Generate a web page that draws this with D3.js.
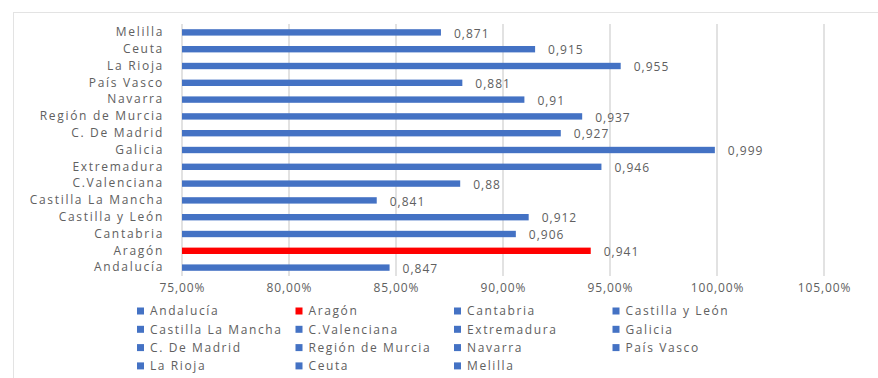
<!DOCTYPE html>
<html>
<head>
<meta charset="utf-8">
<script src="https://cdn.jsdelivr.net/npm/d3@7"></script>
<style>
  body { margin: 0; background: #fff; }
  svg text { font-family: "Open Sans", sans-serif; fill: #606060; }
</style>
</head>
<body>
<svg id="chart" width="878" height="378"></svg>
<script>
// Data (bottom to top in the chart; also legend order)
const categories = ["Andalucía", "Aragón", "Cantabria", "Castilla y León", "Castilla La Mancha",
  "C.Valenciana", "Extremadura", "Galicia", "C. De Madrid", "Región de Murcia", "Navarra",
  "País Vasco", "La Rioja", "Ceuta", "Melilla"];
const values = [0.847, 0.941, 0.906, 0.912, 0.841, 0.88, 0.946, 0.999, 0.927, 0.937, 0.91,
  0.881, 0.955, 0.915, 0.871];
const highlight = "Aragón";
const xTicks = [0.75, 0.80, 0.85, 0.90, 0.95, 1.00, 1.05];

const svg = d3.select("#chart");
const blue = "#4472C4", red = "#FF0000";
const txtColor = "#606060";

// chart frame
svg.append("line").attr("x1", 13).attr("x2", 878).attr("y1", 12.5).attr("y2", 12.5)
  .attr("stroke", "#e3e3e3");
svg.append("line").attr("x1", 13.5).attr("x2", 13.5).attr("y1", 12).attr("y2", 378)
  .attr("stroke", "#e3e3e3");

const x = d3.scaleLinear().domain([0.75, 1.05]).range([182, 824]);
const y = d3.scaleBand().domain(categories.slice().reverse()).range([24, 276]).paddingInner(0.62).paddingOuter(0.31);

// gridlines
svg.append("g").selectAll("line").data(xTicks).join("line")
  .attr("x1", d => x(d)).attr("x2", d => x(d))
  .attr("y1", 24).attr("y2", 276)
  .attr("stroke", "#d9d9d9").attr("stroke-width", 1.5);

// x axis labels
const fmt = d => d3.format(".2f")(d * 100).replace(".", ",") + "%";
const xAxis = d3.axisBottom(x).tickValues(xTicks).tickSize(0).tickPadding(0).tickFormat(fmt);
const gx = svg.append("g").attr("transform", "translate(0,283)").call(xAxis);
gx.select(".domain").remove();
gx.selectAll("text").attr("font-size", 12).attr("letter-spacing", "0.9px")
  .style("font-family", "'Open Sans', sans-serif").attr("fill", txtColor);

// y axis labels
const yAxis = d3.axisLeft(y).tickSize(0).tickPadding(0);
const gy = svg.append("g").attr("transform", "translate(164,0)").call(yAxis);
gy.select(".domain").remove();
gy.selectAll("text").attr("font-size", 12).attr("letter-spacing", "1.7px")
  .style("font-family", "'Open Sans', sans-serif").attr("fill", txtColor);

// bars
const data = categories.map((c, i) => ({ c, v: values[i] }));
svg.append("g").selectAll("rect").data(data).join("rect")
  .attr("x", x(0.75))
  .attr("y", d => y(d.c))
  .attr("width", d => x(d.v) - x(0.75))
  .attr("height", y.bandwidth())
  .attr("fill", d => d.c === highlight ? red : blue);

// value labels
svg.append("g").selectAll("text").data(data).join("text")
  .attr("x", d => x(d.v) + 13)
  .attr("y", d => y(d.c) + y.bandwidth() / 2 + 1)
  .attr("dy", "0.35em")
  .attr("font-size", 12).attr("letter-spacing", "1px")
  .text(d => String(d.v).replace(".", ","));

// legend
const legendCols = 4, colW = 158.5, rowH = 18.3;
const lg = svg.append("g").attr("transform", "translate(137,311)");
const items = lg.selectAll("g").data(data).join("g")
  .attr("transform", (d, i) => `translate(${(i % legendCols) * colW},${Math.floor(i / legendCols) * rowH})`);
items.append("rect").attr("x", 0).attr("y", -3.5).attr("width", 7).attr("height", 7)
  .attr("fill", d => d.c === highlight ? red : blue);
items.append("text").attr("x", 13).attr("y", 0).attr("dy", "0.35em")
  .attr("font-size", 12).attr("letter-spacing", "1.6px")
  .text(d => d.c);
</script>
</body>
</html>
